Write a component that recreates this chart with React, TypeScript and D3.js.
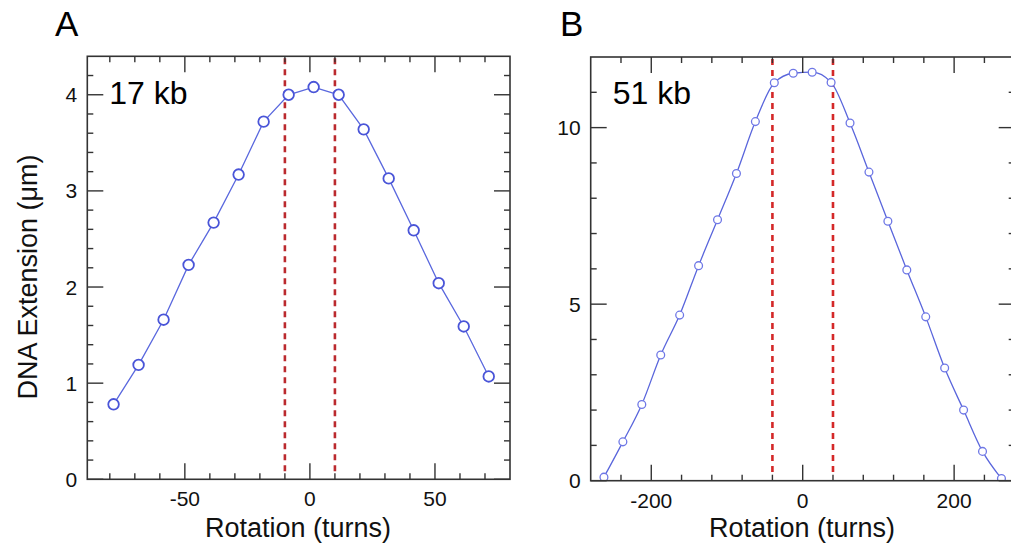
import React from "react";
import * as d3 from "d3";

// ---------- Data ----------
const rotationA = [-78.5, -68.5, -58.5, -48.5, -38.5, -28.5, -18.5, -8.5, 1.5, 11.5, 21.5, 31.5, 41.5, 51.5, 61.5, 71.5];
const extensionA = [0.78, 1.19, 1.66, 2.23, 2.67, 3.17, 3.72, 4.0, 4.08, 4.0, 3.64, 3.13, 2.59, 2.04, 1.59, 1.07];

const rotationB = [-262.5, -237.5, -212.5, -187.5, -162.5, -137.5, -112.5, -87.5, -62.5, -37.5, -12.5, 12.5, 37.5, 62.5, 87.5, 112.5, 137.5, 162.5, 187.5, 212.5, 237.5, 262.5];
const extensionB = [0.1, 1.1, 2.16, 3.56, 4.69, 6.09, 7.39, 8.7, 10.17, 11.27, 11.54, 11.57, 11.28, 10.13, 8.74, 7.35, 5.97, 4.64, 3.19, 2.0, 0.83, 0.06];

const xMajorA = [-50, 0, 50];
const xMinorA = [-80, -70, -60, -40, -30, -20, -10, 10, 20, 30, 40, 60, 70];
const yMajorA = [0, 1, 2, 3, 4];
const yMinorA = [0.2, 0.4, 0.6, 0.8, 1.2, 1.4, 1.6, 1.8, 2.2, 2.4, 2.6, 2.8, 3.2, 3.4, 3.6, 3.8, 4.2];
const dashedA = [-10, 10];

const xMajorB = [-200, 0, 200];
const xMinorB = [-240, -160, -120, -80, -40, 40, 80, 120, 160, 240];
const yMajorB = [0, 5, 10];
const yMinorB = [1, 2, 3, 4, 6, 7, 8, 9, 11];
const dashedB = [-40, 40];

const FONT = "'Liberation Sans', Arial, Helvetica, sans-serif";

type PanelProps = {
  letter: string;
  letterX: number;
  label: string;
  left: number; right: number; top: number; bottom: number;
  xDomain: [number, number]; yDomain: [number, number];
  xs: number[]; ys: number[];
  xMajor: number[]; xMinor: number[]; yMajor: number[]; yMinor: number[];
  dashed: number[];
  markerR: number; markerW: number; markerColor: string; lineColor: string;
  redColor: string;
  curve: d3.CurveFactory;
  titleX: number;
  yTitle?: string;
};

function Panel(p: PanelProps) {
  const x = d3.scaleLinear().domain(p.xDomain).range([p.left, p.right]);
  const y = d3.scaleLinear().domain(p.yDomain).range([p.bottom, p.top]);
  const pts: [number, number][] = p.xs.map((v, i) => [x(v), y(p.ys[i])]);
  const line = d3.line().curve(p.curve)(pts) || "";
  const MAJ = 16, MIN = 6;
  const frame = "#333";
  const clipId = "clip" + p.letter;
  return (
    <g>
      <defs>
        <clipPath id={clipId}>
          <rect x={p.left} y={p.top} width={p.right - p.left} height={p.bottom - p.top} />
        </clipPath>
      </defs>
      <text x={p.letterX} y={36} fontSize={35} fontFamily={FONT} fill="#000">{p.letter}</text>
      {p.dashed.map((d) => (
        <line key={"d" + d} x1={x(d)} x2={x(d)} y1={p.top + 2} y2={p.bottom - 6}
          stroke={p.redColor} strokeWidth={2.6} strokeDasharray="6,5" />
      ))}
      <g clipPath={`url(#${clipId})`}>
        <path d={line} fill="none" stroke={p.lineColor} strokeWidth={1.3} />
        {pts.map(([cx, cy], i) => (
          <circle key={i} cx={cx} cy={cy} r={p.markerR} fill="#fff" stroke={p.markerColor} strokeWidth={p.markerW} />
        ))}
      </g>
      {p.xMajor.map((t) => (
        <g key={"xM" + t}>
          <line x1={x(t)} x2={x(t)} y1={p.bottom} y2={p.bottom - MAJ} stroke={frame} strokeWidth={1.4} />
          <line x1={x(t)} x2={x(t)} y1={p.top} y2={p.top + MAJ} stroke={frame} strokeWidth={1.4} />
          <text x={x(t)} y={p.bottom + 27} fontSize={21} fontFamily={FONT} textAnchor="middle" fill="#111">{t}</text>
        </g>
      ))}
      {p.xMinor.map((t) => (
        <g key={"xm" + t}>
          <line x1={x(t)} x2={x(t)} y1={p.bottom} y2={p.bottom - MIN} stroke={frame} strokeWidth={1.4} />
          <line x1={x(t)} x2={x(t)} y1={p.top} y2={p.top + MIN} stroke={frame} strokeWidth={1.4} />
        </g>
      ))}
      {p.yMajor.map((t) => (
        <g key={"yM" + t}>
          <line x1={p.left} x2={p.left + MAJ} y1={y(t)} y2={y(t)} stroke={frame} strokeWidth={1.4} />
          <line x1={p.right} x2={p.right - MAJ} y1={y(t)} y2={y(t)} stroke={frame} strokeWidth={1.4} />
          <text x={p.left - 10} y={y(t) + 7.5} fontSize={21} fontFamily={FONT} textAnchor="end" fill="#111">{t}</text>
        </g>
      ))}
      {p.yMinor.map((t) => (
        <g key={"ym" + t}>
          <line x1={p.left} x2={p.left + MIN} y1={y(t)} y2={y(t)} stroke={frame} strokeWidth={1.4} />
          <line x1={p.right} x2={p.right - MIN} y1={y(t)} y2={y(t)} stroke={frame} strokeWidth={1.4} />
        </g>
      ))}
      <rect x={p.left} y={p.top} width={p.right - p.left} height={p.bottom - p.top} fill="none" stroke={frame} strokeWidth={1.6} />
      <text x={p.left + 22} y={103.5} fontSize={32} fontFamily={FONT} fill="#000">{p.label}</text>
      <text x={p.titleX} y={537} fontSize={27} fontFamily={FONT} textAnchor="middle" fill="#111">Rotation (turns)</text>
      {p.yTitle && (
        <text transform={`translate(36.5,277) rotate(-90)`} fontSize={27} fontFamily={FONT} textAnchor="middle" fill="#111">{p.yTitle}</text>
      )}
    </g>
  );
}

export default function App() {
  return (
    <svg width={1011} height={548} style={{ position: "absolute", left: 0, top: 0, background: "#fff" }}>
      <rect width={1011} height={548} fill="#fff" />
      <Panel letter="A" letterX={55} label="17 kb"
        left={87.3} right={510} top={56.3} bottom={479.3}
        xDomain={[-89, 80]} yDomain={[0, 4.4]}
        xs={rotationA} ys={extensionA}
        xMajor={xMajorA} xMinor={xMinorA} yMajor={yMajorA} yMinor={yMinorA}
        dashed={dashedA}
        markerR={5.3} markerW={1.8} markerColor="#4a55d8" lineColor="#5a68de"
        redColor="#bb2a2e" curve={d3.curveLinear}
        titleX={298}
        yTitle="DNA Extension (μm)" />
      <Panel letter="B" letterX={560} label="51 kb"
        left={590.7} right={1014.7} top={57} bottom={480.7}
        xDomain={[-280, 280]} yDomain={[0, 12]}
        xs={rotationB} ys={extensionB}
        xMajor={xMajorB} xMinor={xMinorB} yMajor={yMajorB} yMinor={yMinorB}
        dashed={dashedB}
        markerR={3.9} markerW={1.3} markerColor="#6f78e6" lineColor="#5a66dc"
        redColor="#d42828" curve={d3.curveMonotoneX}
        titleX={802}
        />
    </svg>
  );
}
